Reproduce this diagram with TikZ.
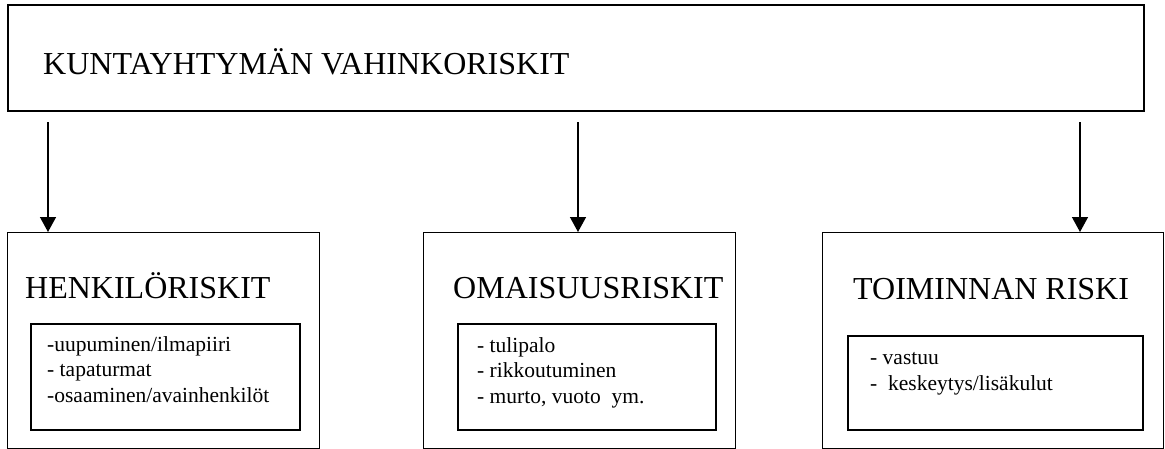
\documentclass[tikz,border=0pt]{standalone}
\usepackage{fontspec}
\setmainfont{Liberation Serif}
\usetikzlibrary{arrows.meta}

\tikzset{
  mainbox/.style={draw=black, line width=1.6pt, inner sep=0pt, anchor=north west},
  riskbox/.style={draw=black, line width=1.2pt, inner sep=0pt, anchor=north west},
  listbox/.style={draw=black, line width=2pt, inner sep=0pt, anchor=north west},
  heading/.style={font=\fontsize{32}{36}\selectfont, inner sep=0pt, anchor=base west},
  itemlist/.style={font=\fontsize{21.5}{25.5}\selectfont, inner sep=0pt, anchor=base west,
    align=left},
  flow/.style={line width=1.4pt, -{Triangle[width=16pt,length=15pt]}},
}

\begin{document}
\begin{tikzpicture}[x=1pt,y=-1pt]
  \useasboundingbox (0,0) rectangle (1165,448);

  % top box
  \node[mainbox, minimum width=1136pt, minimum height=106pt] (top) at (7,4) {};
  \node[heading] (toptext) at (43,74) {KUNTAYHTYMÄN VAHINKORISKIT};

  % three risk groups (bottom edges run off the page)
  \node[riskbox, minimum width=312pt, minimum height=216pt] (hr) at (7,232) {};
  \node[riskbox, minimum width=312pt, minimum height=216pt] (om) at (423,232) {};
  \node[riskbox, minimum width=341pt, minimum height=216pt] (tr) at (822,232) {};

  \node[heading] (hrtext) at (25,298) {HENKILÖRISKIT};
  \node[heading] (omtext) at (453,298) {OMAISUUSRISKIT};
  \node[heading] (trtext) at (853,299) {TOIMINNAN RISKI};

  % item lists; a multi-line node sits on the baseline of its last line
  \node[listbox, minimum width=269pt, minimum height=106pt] (hrlist) at (30,323) {};
  \node[listbox, minimum width=258pt, minimum height=106pt] (omlist) at (457,323) {};
  \node[listbox, minimum width=295pt, minimum height=94pt] (trlist) at (847,335) {};

  \node[itemlist] (hritems) at (47,402) {-uupuminen/ilmapiiri\\- tapaturmat\\-osaaminen/avainhenkilöt};
  \node[itemlist] (omitems) at (477,403) {- tulipalo\\- rikkoutuminen\\- murto, vuoto\ \ ym.};
  \node[itemlist] (tritems) at (870,390) {- vastuu\\-\ \ keskeytys/lisäkulut};

  % arrows from the top box to the groups
  \coordinate (a1) at (48,122);
  \coordinate (a2) at (578,122);
  \coordinate (a3) at (1080,122);
  \draw[flow] (a1) -- (a1 |- hr.north);
  \draw[flow] (a2) -- (a2 |- om.north);
  \draw[flow] (a3) -- (a3 |- tr.north);
\end{tikzpicture}
\end{document}
